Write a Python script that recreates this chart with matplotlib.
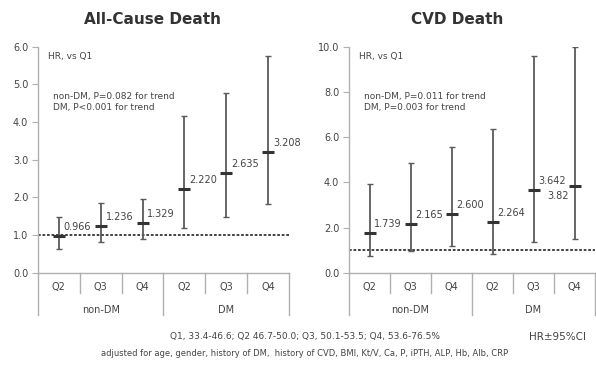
import matplotlib
matplotlib.use("Agg")
import matplotlib.pyplot as plt
import matplotlib.transforms as mtransforms

plt.rcParams['font.family'] = ['DejaVu Sans']

categories = ["Q2", "Q3", "Q4", "Q2", "Q3", "Q4"]
groups = ["non-DM", "DM"]

ac_hr = [0.966, 1.236, 1.329, 2.220, 2.635, 3.208]
ac_lo = [0.62, 0.81, 0.89, 1.20, 1.47, 1.82]
ac_hi = [1.47, 1.86, 1.95, 4.16, 4.77, 5.75]
ac_labels = ["0.966", "1.236", "1.329", "2.220", "2.635", "3.208"]

cvd_hr = [1.739, 2.165, 2.600, 2.264, 3.642, 3.82]
cvd_lo = [0.75, 0.97, 1.19, 0.83, 1.37, 1.48]
cvd_hi = [3.92, 4.84, 5.58, 6.34, 9.60, 9.97]
cvd_labels = ["1.739", "2.165", "2.600", "2.264", "3.642", "3.82"]

ac_yticks = [0.0, 1.0, 2.0, 3.0, 4.0, 5.0, 6.0]
cvd_yticks = [0.0, 2.0, 4.0, 6.0, 8.0, 10.0]

W, H = 596, 379
fig = plt.figure(figsize=(W / 100, H / 100), dpi=100)

txt_c = '#444444'
axis_c = '#b0b0b0'
bar_c = '#5a5a5a'


def make_panel(rect, hr, lo, hi, labels, yticks, title, title_x, p1, p2,
               last_left=False):
    ax = fig.add_axes(rect)
    x = list(range(len(hr)))
    yerr = [[h - l for h, l in zip(hr, lo)], [u - h for h, u in zip(hr, hi)]]
    ax.errorbar(x, hr, yerr=yerr, fmt='none', ecolor=bar_c, elinewidth=1.3,
                capsize=2.5, capthick=1.0, zorder=3)
    ax.plot(x, hr, linestyle='none', marker='_', markersize=9, mew=2.2,
            color='#333333', zorder=4)
    ax.axhline(1.0, color='#333333', lw=1.3, ls=(0, (1.5, 1)), zorder=2)
    n = len(hr)
    for i, (xi, h, lab) in enumerate(zip(x, hr, labels)):
        if last_left and i == n - 1:
            ax.annotate(lab, (xi, h), xytext=(-4, -7),
                        textcoords='offset points', ha='right', va='center',
                        fontsize=7, color=txt_c, annotation_clip=False)
        else:
            ax.annotate(lab, (xi, h), xytext=(3.5, 6.5),
                        textcoords='offset points', ha='left', va='center',
                        fontsize=7, color=txt_c, annotation_clip=False)
    ax.set_xlim(-0.5, n - 0.5)
    ax.set_ylim(yticks[0], yticks[-1])
    ax.set_yticks(yticks)
    ax.set_yticklabels([f"{v:.1f}" for v in yticks])
    ax.tick_params(axis='y', labelsize=7, colors=axis_c, labelcolor=txt_c,
                   length=4, width=0.8, pad=3)
    ax.set_xticks([])
    for s in ['top', 'right']:
        ax.spines[s].set_visible(False)
    for s in ['left', 'bottom']:
        ax.spines[s].set_color(axis_c)
        ax.spines[s].set_linewidth(1.0)
    trans = mtransforms.blended_transform_factory(ax.transData, ax.transAxes)
    for sx in [0.5, 1.5, 3.5, 4.5]:
        ax.plot([sx, sx], [0, -0.088], transform=trans, color=axis_c, lw=1.0,
                clip_on=False)
    for sx in [-0.5, 2.5, 5.5]:
        ax.plot([sx, sx], [0, -0.186], transform=trans, color=axis_c, lw=1.0,
                clip_on=False)
    for xi, c in zip(x, categories):
        ax.text(xi, -0.062, c, transform=trans, ha='center', va='center',
                fontsize=7, color=txt_c)
    for gi, g in enumerate(groups):
        ax.text(1 + 3 * gi, -0.164, g, transform=trans, ha='center',
                va='center', fontsize=7, color=txt_c)
    ax.text(0.04, 0.955, "HR, vs Q1", transform=ax.transAxes, ha='left',
            va='center', fontsize=6.5, color=txt_c)
    ax.text(0.06, 0.78, p1, transform=ax.transAxes, ha='left', va='center',
            fontsize=6.5, color=txt_c)
    ax.text(0.06, 0.73, p2, transform=ax.transAxes, ha='left', va='center',
            fontsize=6.5, color=txt_c)
    fig.text(title_x / W, 1 - 20 / H, title, ha='center', va='center',
             fontsize=11, fontweight='bold', color='#333333')
    return ax


bottom = 1 - 272.7 / H
height = 226 / H
make_panel([38 / W, bottom, 251 / W, height], ac_hr, ac_lo, ac_hi, ac_labels,
           ac_yticks, "All-Cause Death", 152,
           "non-DM, P=0.082 for trend", "DM, P<0.001 for trend")
make_panel([349 / W, bottom, 246 / W, height], cvd_hr, cvd_lo, cvd_hi,
           cvd_labels, cvd_yticks, "CVD Death", 457,
           "non-DM, P=0.011 for trend", "DM, P=0.003 for trend",
           last_left=True)

fig.text(305 / W, 1 - 337 / H,
         "Q1, 33.4-46.6; Q2 46.7-50.0; Q3, 50.1-53.5; Q4, 53.6-76.5%",
         ha='center', va='center', fontsize=6.5, color=txt_c)
fig.text(558 / W, 1 - 337 / H, "HR\u00b195%CI", ha='center', va='center',
         fontsize=7.5, color=txt_c)
fig.text(305 / W, 1 - 354 / H,
         "adjusted for age, gender, history of DM,  history of CVD, BMI, Kt/V, Ca, P, iPTH, ALP, Hb, Alb, CRP",
         ha='center', va='center', fontsize=6, color=txt_c)

fig.savefig("out.png", dpi=100, facecolor='white')
